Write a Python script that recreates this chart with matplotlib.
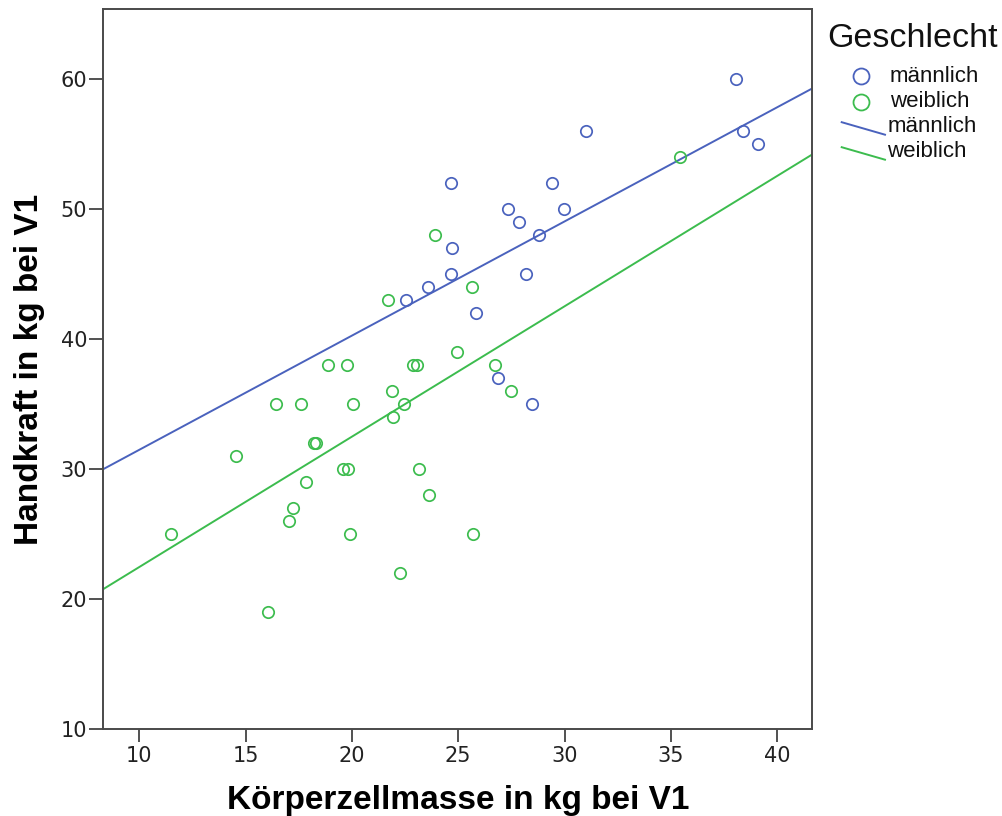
import numpy as np
import matplotlib
matplotlib.use("Agg")
import matplotlib.pyplot as plt
from matplotlib.lines import Line2D

# Körperzellmasse (kg) vs. Handkraft (kg) at V1, split by sex
male_bcm = [24.64, 24.73, 24.64, 23.59, 22.54, 38.05, 31.0, 38.37, 39.12,
            29.43, 27.32, 29.97, 27.87, 28.78, 28.2, 25.83, 26.88, 28.49]
male_grip = [52, 47, 45, 44, 43, 60, 56, 56, 55,
             52, 50, 50, 49, 48, 45, 42, 37, 35]

female_bcm = [23.93, 21.72, 18.89, 19.77, 22.88, 23.07, 24.95, 35.41, 25.66,
              26.74, 27.49, 21.87, 16.43, 17.6, 20.03, 22.46, 21.94, 18.2,
              18.3, 14.55, 19.59, 19.81, 23.15, 17.84, 17.24, 23.63, 17.04,
              11.49, 19.92, 22.24, 16.05, 25.69]
female_grip = [48, 43, 38, 38, 38, 38, 39, 54, 44,
               38, 36, 36, 35, 35, 35, 35, 34, 32,
               32, 31, 30, 30, 30, 29, 27, 28, 26,
               25, 25, 22, 19, 25]

# fitted lines (intercept, slope)
male_fit = (22.70, 0.879)
female_fit = (12.43, 1.0036)

x_ticks = [10, 15, 20, 25, 30, 35, 40]
y_ticks = [10, 20, 30, 40, 50, 60]
x_range = (8.31, 41.65)
y_range = (10, 65.4)

BLUE = "#4a62bd"
GREEN = "#3cbc4e"
W, H = 1003, 816


def fx(px):
    return px / W


def fy(py):
    return 1 - py / H


fig = plt.figure(figsize=(W / 100, H / 100), dpi=100)
ax = fig.add_axes([fx(103.3), fy(729), fx(812.3) - fx(103.3), fy(9.3) - fy(729)])

ax.plot(male_bcm, male_grip, "o", mfc="none", mec=BLUE, ms=8.2, mew=1.25, zorder=3)
ax.plot(female_bcm, female_grip, "o", mfc="none", mec=GREEN, ms=8.2, mew=1.25, zorder=3)

xs = np.array(x_range)
for (b0, b1), col in [(male_fit, BLUE), (female_fit, GREEN)]:
    ax.plot(xs, b0 + b1 * xs, color=col, lw=1.4, zorder=2)

ax.set_xlim(*x_range)
ax.set_ylim(*y_range)
ax.set_xticks(x_ticks)
ax.set_yticks(y_ticks)

for s in ax.spines.values():
    s.set_color("#4a4a4a")
    s.set_linewidth(1.4)
ax.tick_params(axis="y", direction="out", length=10, width=1.1, pad=1.5,
               colors="#222222", labelsize=15)
ax.tick_params(axis="x", direction="out", length=9.5, width=1.1, pad=2.5,
               colors="#222222", labelsize=15)
for lab in ax.get_xticklabels() + ax.get_yticklabels():
    lab.set_family("DejaVu Sans")

ax.set_xlabel("Körperzellmasse in kg bei V1", family="Liberation Sans",
              fontsize=24, fontweight="bold", labelpad=14)
ax.set_ylabel("Handkraft in kg bei V1", family="Liberation Sans",
              fontsize=24, fontweight="bold", labelpad=11)

# legend drawn by hand (SPSS style with slanted line keys)
fig.text(fx(827), fy(46.7), "Geschlecht", family="Liberation Sans",
         fontsize=24.5, va="baseline", ha="left", color="#111111")

rows = [
    ("marker", BLUE, "männlich", 76),
    ("marker", GREEN, "weiblich", 101.7),
    ("line", BLUE, "männlich", 126.7),
    ("line", GREEN, "weiblich", 151.7),
]
for kind, col, text, yc in rows:
    if kind == "marker":
        fig.add_artist(Line2D([fx(861.5)], [fy(yc)], marker="o", mfc="none",
                              mec=col, ms=11.5, mew=1.3, transform=fig.transFigure))
        tx = 890
    else:
        fig.add_artist(Line2D([fx(841.7), fx(885)], [fy(yc - 4.5), fy(yc + 8)],
                              color=col, lw=1.4, transform=fig.transFigure))
        tx = 887.5
    fig.text(fx(tx), fy(yc), text, family="Liberation Sans", fontsize=16,
             va="center", ha="left", color="#111111")

fig.savefig("out.png", dpi=100)
